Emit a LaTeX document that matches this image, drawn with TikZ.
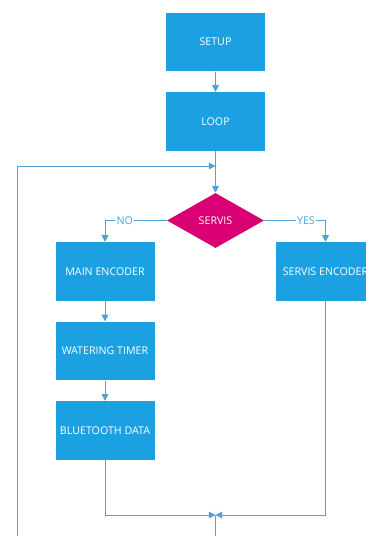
\documentclass[tikz,border=0pt]{standalone}
\usepackage{fontspec}
\setmainfont{Open Sans}
\usetikzlibrary{arrows.meta,shapes.geometric}
\definecolor{metroBlue}{HTML}{1BA1E2}
\definecolor{metroMagenta}{HTML}{D80073}
\definecolor{flowLine}{HTML}{4AA3DC}
\tikzset{%
  >={Triangle[width=5pt,length=5pt]},
  % Specifications for style of nodes:
            base/.style = {rectangle, draw=none, minimum width=74.25pt,
                           minimum height=44pt, inner sep=0pt, text=white,
                           text centered, font=\fontsize{8}{9}\selectfont},
         process/.style = {base, fill=metroBlue},
        decision/.style = {base, diamond, fill=metroMagenta,
                           minimum width=72.75pt, minimum height=41.25pt},
     branchLabel/.style = {fill=white, text=flowLine, inner sep=1pt,
                           font=\fontsize{8}{9}\selectfont},
            flow/.style = {draw=flowLine, line width=0.75pt},
}

\begin{document}
\begin{tikzpicture}[x=0.75pt, y=0.75pt, node distance=59.6pt]
  \useasboundingbox (0,0) rectangle (366,-536);
  \clip (0,0) rectangle (366,-536);
  % Specification of nodes (position, etc.)
    \node (setup)      [process] at (215.5,-42)       {SETUP};
    \node (loop)       [process, below of=setup]      {LOOP};
    \node (servis)     [decision] at (215.5,-220.5)   {SERVIS};
    \node (mainEnc)    [process] at (105,-271.5)      {MAIN ENCODER};
    \node (watering)   [process, below of=mainEnc]    {WATERING TIMER};
    \node (bluetooth)  [process, below of=watering]   {BLUETOOTH DATA};
    \node (servisEnc)  [process] at (325.5,-271.5)    {SERVIS ENCODER};
    \coordinate (loopIn)   at (215.5,-166);
    \coordinate (merge)    at (215.5,-515);
    \coordinate (mergeOut) at (215.5,-560);
    \coordinate (railTop)  at (17.5,-166);
  % Specification of lines between nodes specified above
    \draw[flow,->]   (setup) -- (loop);
    \draw[flow,->]   (loop) -- (servis);
    \draw[flow,->]   (servis.west) -| node[branchLabel, pos=0.34] {NO} (mainEnc);
    \draw[flow,->]   (servis.east) -| node[branchLabel, pos=0.34] {YES} (servisEnc);
    \draw[flow,->]   (mainEnc) -- (watering);
    \draw[flow,->]   (watering) -- (bluetooth);
    \draw[flow,->]   (bluetooth) |- (merge);
    \draw[flow,->]   (servisEnc) |- (merge);
    \draw[flow,->]   (merge) -- (mergeOut) -| (railTop) -- (loopIn);
\end{tikzpicture}
\end{document}
